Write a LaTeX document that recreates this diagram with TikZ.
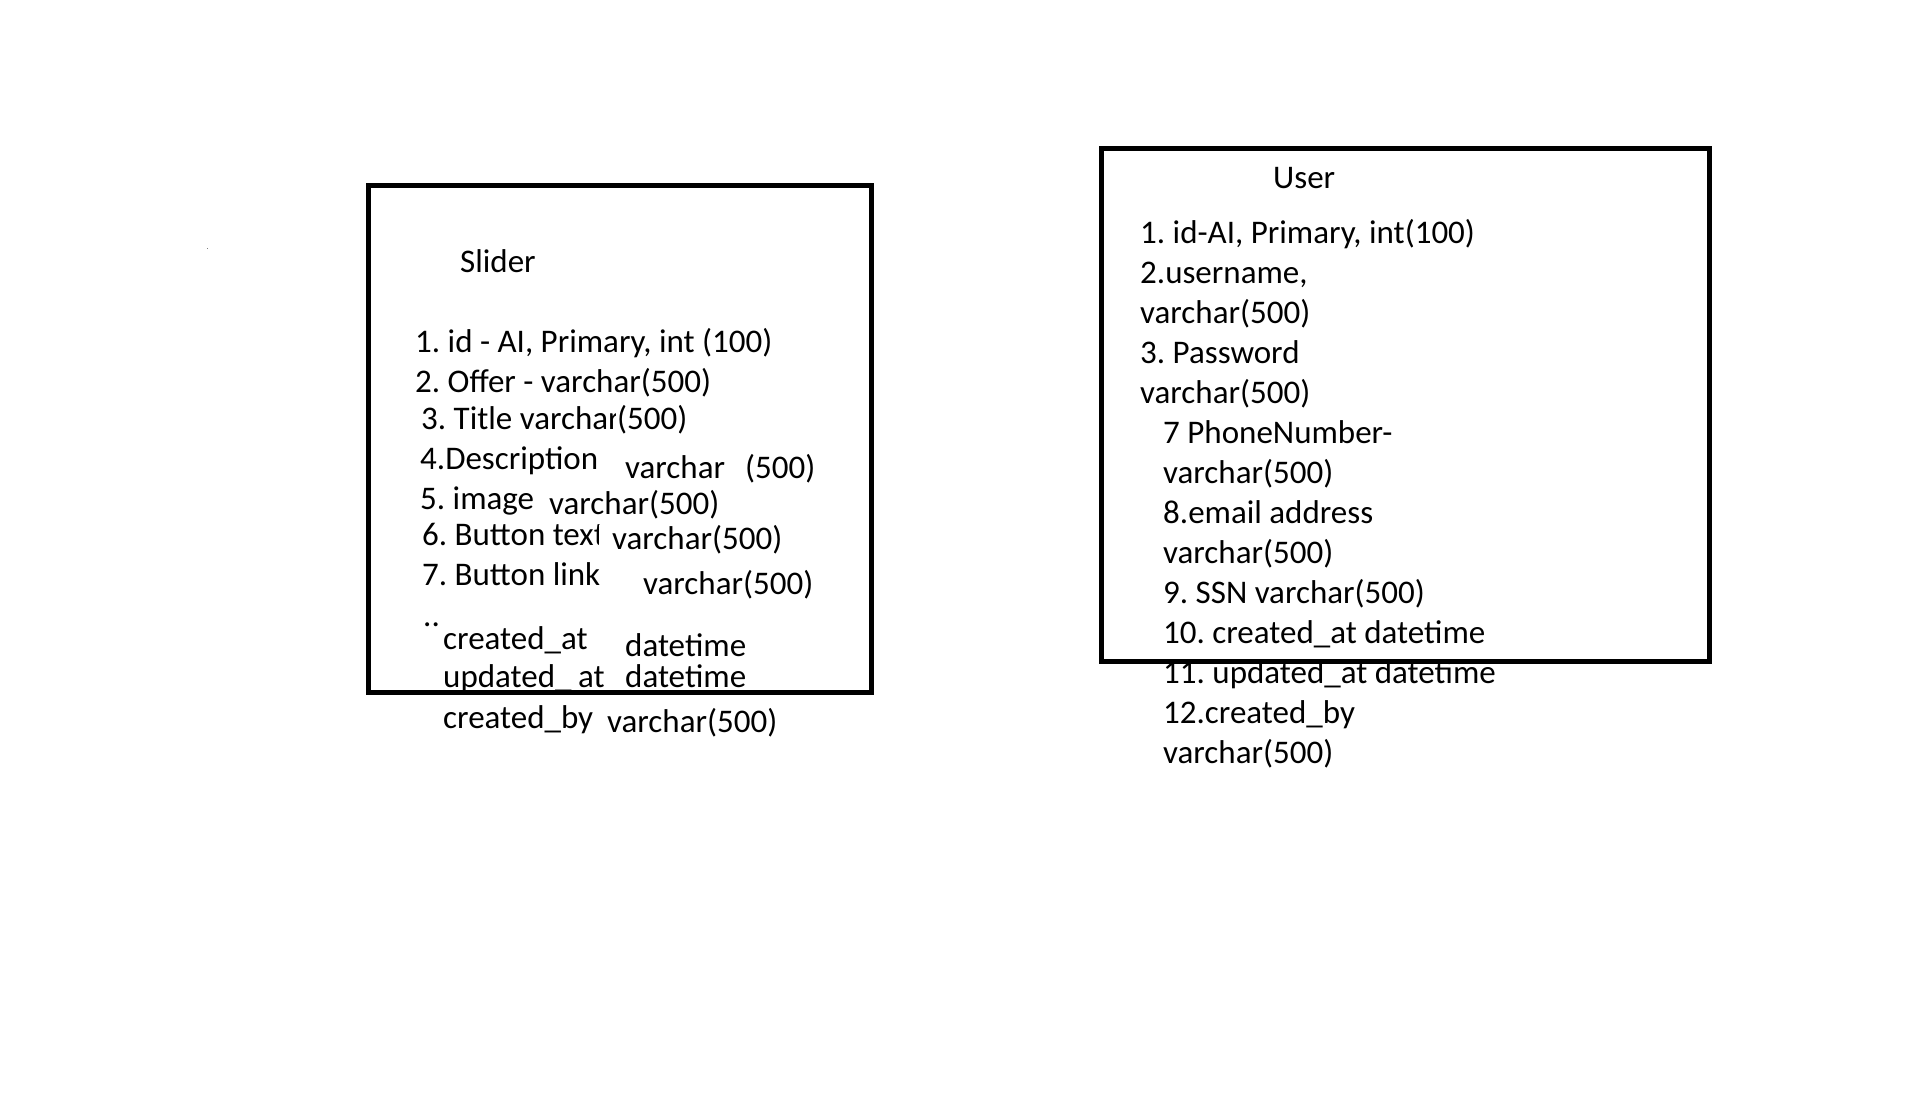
\documentclass[tikz,border=0pt]{standalone}
\usepackage{fontspec}
\setmainfont{Carlito}
\frenchspacing
\begin{document}
\begin{tikzpicture}[x=1pt,y=-1pt,
  txt/.style={anchor=base west,inner sep=0pt,font=\fontsize{33}{40}\selectfont},
  tablebox/.style={draw=black,line width=5pt}]
\useasboundingbox (0,0) rectangle (1920,1096);
\fill[gray] (206.5,247.5) rectangle (207.5,248.5);

% Slider table
\node[txt] (stitle) at (460,272) {Slider};
\node[txt] (s1) at (415,352) {1. id - AI, Primary, int (100)};
\node[txt] (s2) at (415,392) {2. Offer - varchar(500)};
\node[txt] (s3) at (421,429) {3. Title varchar};
\node[txt,fill=white,inner xsep=1pt] (s3t) at (616,429) {(500)};
\node[txt] (s4) at (420,469) {4.Description};
\node[txt] (s4t) at (625,478) {varchar};
\node[txt] (s4n) at (745,478) {(500)};
\node[txt] (s5) at (420,509) {5. image};
\node[txt] (s5t) at (549,514) {varchar(500)};
\node[txt] (s6) at (422,545) {6. Button text};
\node[txt,fill=white,inner xsep=13pt] (s6t) at (599,549) {varchar(500)};
\node[txt] (s7) at (422,585) {7. Button link};
\node[txt] (s7t) at (643,594) {varchar(500)};
\node[txt] (sdots) at (423,626) {..};
\node[txt] (sca) at (443,649) {created\_at};
\node[txt] (scat) at (625,656) {datetime};
\node[txt] (sua) at (443,687) {updated\_};
\node[txt] (sua2) at (578,687) {at};
\node[txt] (suat) at (625,687) {datetime};
\node[txt] (scb) at (443,728) {created\_by};
\node[txt] (scbt) at (607,732) {varchar(500)};
\draw[tablebox] (368.5,185.5) rectangle (871.5,692);

% User table
\node[txt] (utitle) at (1273,188) {User};
\node[txt] (u1) at (1140,243) {1. id-AI, Primary, int(100)};
\node[txt] (u2) at (1140,283) {2.username,};
\node[txt] (u2t) at (1140,323) {varchar(500)};
\node[txt] (u3) at (1140,363) {3. Password};
\node[txt] (u3t) at (1140,403) {varchar(500)};
\node[txt] (u7) at (1163,443) {7 PhoneNumber-};
\node[txt] (u7t) at (1163,483) {varchar(500)};
\node[txt] (u8) at (1163,523) {8.email address};
\node[txt] (u8t) at (1163,563) {varchar(500)};
\node[txt] (u9) at (1163,603) {9. SSN varchar(500)};
\node[txt] (u10) at (1163,643) {10. created\_at datetime};
\node[txt] (u11) at (1163,683) {11. updated\_at datetime};
\node[txt] (u12) at (1163,723) {12.created\_by};
\node[txt] (u12t) at (1163,763) {varchar(500)};
\draw[tablebox] (1101,148) rectangle (1709,661);
\end{tikzpicture}
\end{document}
